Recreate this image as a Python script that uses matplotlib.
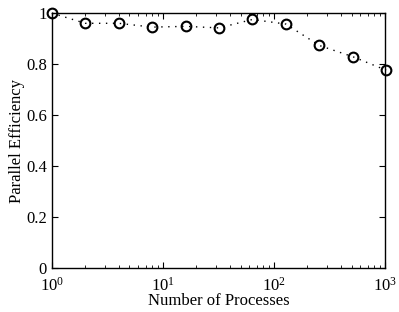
import matplotlib
matplotlib.use("Agg")
import matplotlib.pyplot as plt
from matplotlib.ticker import LogLocator, NullFormatter, FixedLocator

# ==========================
# Data
# ==========================
processes = [1, 2, 4, 8, 16, 32, 64, 128, 256, 512, 1024]
efficiency = [1.0, 0.96, 0.96, 0.945, 0.948, 0.942, 0.975, 0.957, 0.873, 0.829, 0.776]
y_ticks = [0, 0.2, 0.4, 0.6, 0.8, 1.0]
y_tick_labels = ["0", "0.2", "0.4", "0.6", "0.8", "1"]

plt.rcParams["font.family"] = ["Liberation Serif", "DejaVu Serif"]
plt.rcParams["mathtext.fontset"] = "stix"

fig = plt.figure(figsize=(3.99, 3.12), dpi=100)
ax = fig.add_axes([0.130, 0.141, 0.835, 0.817])

ax.plot(processes, efficiency, linestyle=(0, (1, 4)), color="black", linewidth=1.0,
        marker="o", markersize=7, markerfacecolor="none",
        markeredgecolor="black", markeredgewidth=1.5, clip_on=False, zorder=5)

ax.set_xscale("log")
ax.set_xlim(1, 1000)
ax.set_ylim(0, 1)

ax.xaxis.set_major_locator(LogLocator(base=10, numticks=10))
ax.xaxis.set_minor_locator(LogLocator(base=10, subs=range(2, 10), numticks=10))
ax.xaxis.set_minor_formatter(NullFormatter())
ax.yaxis.set_major_locator(FixedLocator(y_ticks))
ax.set_yticklabels(y_tick_labels)

ax.tick_params(which="both", direction="in", top=True, right=True, labelsize=12)
ax.tick_params(which="major", length=4, width=0.8)
ax.tick_params(which="minor", length=2, width=0.6)
ax.tick_params(axis="x", pad=6)

for s in ax.spines.values():
    s.set_linewidth(1.0)

ax.set_xlabel("Number of Processes", fontsize=12, labelpad=-1)
ax.set_ylabel("Parallel Efficiency", fontsize=12, labelpad=1)

fig.savefig("out.png", dpi=100)
